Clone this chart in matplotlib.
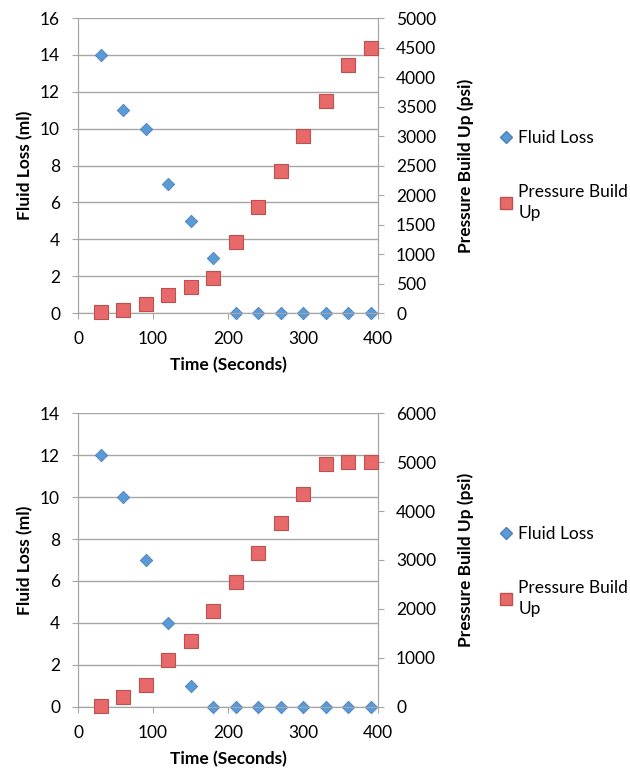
import matplotlib.pyplot as plt
from matplotlib.lines import Line2D

plt.rcParams['font.family'] = ['Lato', 'DejaVu Sans']

time_s = [30, 60, 90, 120, 150, 180, 210, 240, 270, 300, 330, 360, 390]

# first test
fluid_loss_1 = [14, 11, 10, 7, 5, 3, 0, 0, 0, 0, 0, 0, 0]
pressure_1 = [10, 60, 150, 300, 450, 600, 1200, 1800, 2400, 3000, 3600, 4200, 4500]

# second test
fluid_loss_2 = [12, 10, 7, 4, 1, 0, 0, 0, 0, 0, 0, 0, 0]
pressure_2 = [20, 200, 450, 950, 1350, 1950, 2550, 3150, 3750, 4350, 4950, 5000, 5000]

blue = '#5b9bd5'
blue_edge = '#4a7fc0'
red = '#e8696a'
red_edge = '#c0504d'
grid_c = '#a6a6a6'

fig = plt.figure(figsize=(6.3, 7.73), dpi=100)


def draw(rect, fl, pr, ymax, y2max, y2step):
    ax = fig.add_axes(rect)
    ax2 = ax.twinx()
    ax.scatter(time_s, fl, marker='D', s=40, color=blue, edgecolors=blue_edge,
               linewidths=0.6, zorder=3, clip_on=False)
    ax2.scatter(time_s, pr, marker='s', s=95, color=red, edgecolors=red_edge,
                linewidths=0.8, zorder=3, clip_on=False)
    ax.set_xlim(0, 400)
    ax.set_ylim(0, ymax)
    ax2.set_ylim(0, y2max)
    ax.set_xticks(range(0, 401, 100))
    ax.set_yticks(range(0, ymax + 1, 2))
    ax2.set_yticks(range(0, y2max + 1, y2step))
    ax.yaxis.grid(True, color=grid_c, linewidth=1)
    ax.set_axisbelow(True)
    for a in (ax, ax2):
        a.spines['top'].set_visible(False)
        for s in ('left', 'right', 'bottom'):
            a.spines[s].set_color(grid_c)
        a.tick_params(colors=grid_c, labelcolor='black', labelsize=12.5, length=4,
                      direction='out', pad=9)
    ax.set_xlabel('Time (Seconds)', fontsize=12.5, fontweight='bold', labelpad=7)
    ax.set_ylabel('Fluid Loss (ml)', fontsize=12.5, fontweight='bold', labelpad=5)
    ax2.set_ylabel('Pressure Build Up (psi)', fontsize=12.5, fontweight='bold', labelpad=15)
    return ax


def legend(y):
    handles = [
        Line2D([], [], linestyle='none', marker='D', markersize=6, color=blue,
               markeredgecolor=blue_edge),
        Line2D([], [], linestyle='none', marker='s', markersize=9, color=red,
               markeredgecolor=red_edge),
    ]
    leg = fig.legend(handles, ['Fluid Loss', 'Pressure Build\nUp'], loc='upper left',
                     bbox_to_anchor=(0.765, y), frameon=False, fontsize=12.5,
                     handletextpad=0.2, labelspacing=2.2, handlelength=1.0)
    for t in leg.get_texts():
        t.set_linespacing(1.35)


draw([0.124, 0.595, 0.476, 0.3816], fluid_loss_1, pressure_1, 16, 5000, 500)
draw([0.124, 0.0854, 0.476, 0.3803], fluid_loss_2, pressure_2, 14, 6000, 1000)
legend(0.852)
legend(0.340)

fig.savefig('out.png', dpi=100)
